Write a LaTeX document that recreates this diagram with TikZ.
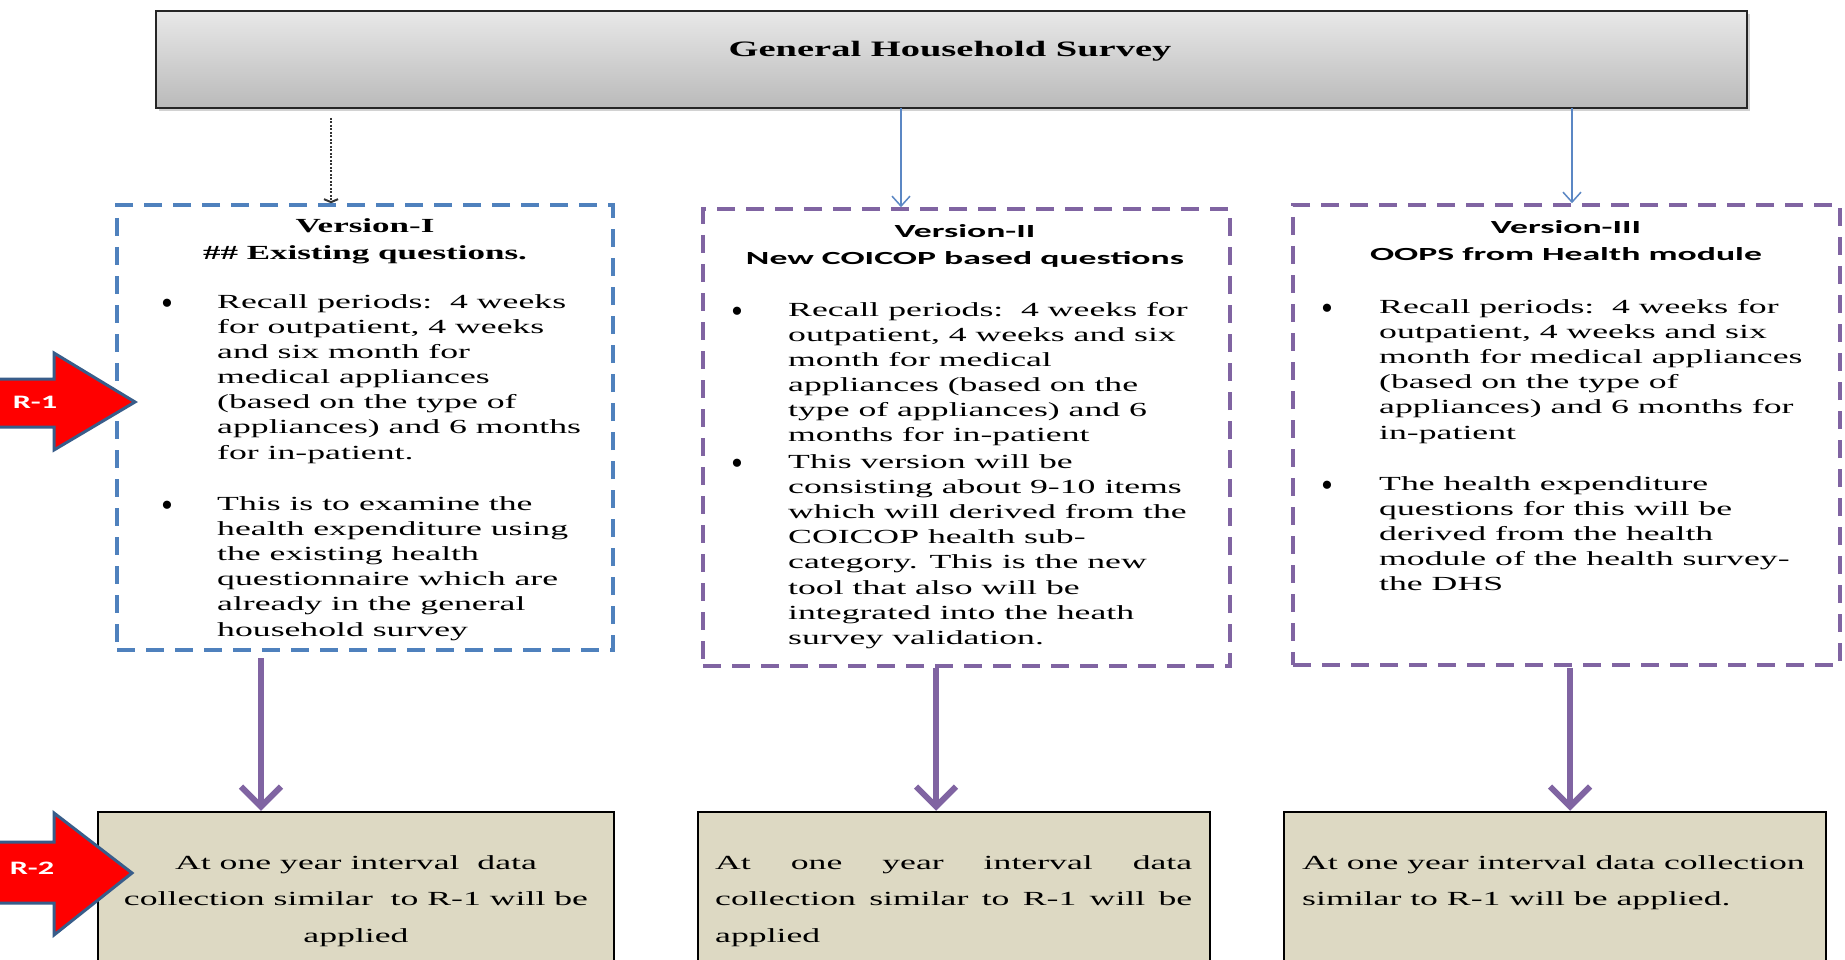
\documentclass[tikz,border=0pt]{standalone}
\usepackage{fontspec}
\setmainfont{Liberation Serif}
\newfontfamily\bodyf{Liberation Serif}[FakeStretch=1.785]
\newfontfamily\headf{Liberation Serif}[FakeStretch=1.75]
\newfontfamily\calf{Carlito}[FakeStretch=1.93]
\newfontfamily\rlabf{Carlito}[FakeStretch=1.7]
\newfontfamily\plainf{Liberation Serif}
\usetikzlibrary{arrows.meta,shadows}
\definecolor{vblue}{RGB}{79,129,189}
\definecolor{arrblue}{RGB}{91,135,196}
\definecolor{vpurple}{RGB}{128,100,162}
\definecolor{tanfill}{RGB}{221,217,195}
\definecolor{rborder}{RGB}{56,93,138}
\definecolor{gtop}{RGB}{232,232,232}
\definecolor{gbot}{RGB}{186,186,186}
\begin{document}
\begin{tikzpicture}[x=1pt,y=-1pt,
  vbox/.style={line width=3.5pt, dash pattern=on 18pt off 11pt, inner sep=0pt},
  bluebox/.style={vbox, draw=vblue},
  purpbox/.style={vbox, draw=vpurple},
  tanbox/.style={draw=black, line width=2.5pt, fill=tanfill, inner sep=0pt},
  para/.style={font=\bodyf\fontsize{20}{25.2}\selectfont, inner sep=0pt, anchor=base west},
  ttl/.style={font=\headf\bfseries\fontsize{20}{27}\selectfont, inner sep=0pt, anchor=base},
  cttl/.style={font=\calf\bfseries\fontsize{18.5}{27}\selectfont, inner sep=0pt, anchor=base},
  bul/.style={font=\plainf\fontsize{34}{34}\selectfont, inner sep=0pt, anchor=center},
  btxt/.style={font=\bodyf\fontsize{20}{36.5}\selectfont, inner sep=0pt},
  thinarr/.style={draw=arrblue, line width=1.5pt, -{Straight Barb[length=10pt,width=18pt]}},
  thickarr/.style={draw=vpurple, line width=6pt, -{Straight Barb[length=20pt,width=40pt]}},
  dotarr/.style={draw=black!80, line width=2pt, dash pattern=on 2pt off 1.5pt, -{Straight Barb[length=3pt,width=14pt]}},
  redarr/.style={fill=red, draw=rborder, line width=3pt, line join=miter},
  rlab/.style={font=\rlabf\bfseries\fontsize{19}{20}\selectfont, text=white, inner sep=0pt, anchor=base}
]
\clip (0,0) rectangle (1845,960);
\fill[white] (0,0) rectangle (1845,960);

% top box
\node[draw=black!85, line width=2.5pt, top color=gtop, bottom color=gbot,
      drop shadow={shadow xshift=3pt, shadow yshift=-3pt, opacity=0.35},
      minimum width=1591pt, minimum height=97pt, inner sep=0pt] (ghs) at (951.5,59.5) {};
\node[font=\headf\bfseries\fontsize{22}{26}\selectfont, inner sep=0pt, anchor=base] (ghsl) at (950,57) {General Household Survey};

% version boxes
\node[bluebox, minimum width=496pt, minimum height=445pt] (v1) at (365,427.5) {};
\node[purpbox, minimum width=527pt, minimum height=457pt] (v2) at (966.5,437.5) {};
\node[purpbox, minimum width=547pt, minimum height=460pt] (v3) at (1566.5,435) {};

% bottom boxes
\node[tanbox, minimum width=516pt, minimum height=188pt] (b1) at (356,906) {};
\node[tanbox, minimum width=512pt, minimum height=188pt] (b2) at (954,906) {};
\node[tanbox, minimum width=542pt, minimum height=188pt] (b3) at (1555,906) {};

% connectors
\coordinate (d1) at (331,118);
\draw[dotarr] (d1) -- (d1 |- v1.north);
\coordinate (a2) at (901,108);
\draw[thinarr] (a2) -- (a2 |- v2.north);
\coordinate (a3) at (1572,108);
\draw[thinarr] (a3) -- (a3 |- v3.north);
\coordinate (p1) at (261,658);
\draw[thickarr] (p1) -- (p1 |- b1.north);
\coordinate (p2) at (936,668);
\draw[thickarr] (p2) -- (p2 |- b2.north);
\coordinate (p3) at (1570,668);
\draw[thickarr] (p3) -- (p3 |- b3.north);

% version I
\node[ttl] (v1t) at (365,233) {\begin{tabular}[t]{@{}c@{}}Version-I\\ \#\# Existing questions.\end{tabular}};
\node[bul] (v1b1) at (167,307) {\textbullet};
\node[para] (v1p1) at (217,308) {\begin{tabular}[t]{@{}l@{}}Recall periods:\ \ 4 weeks\\ for outpatient, 4 weeks\\ and six month for\\ medical appliances\\ (based on the type of\\ appliances) and 6 months\\ for in-patient.\end{tabular}};
\node[bul] (v1b2) at (167,509) {\textbullet};
\node[para] (v1p2) at (217,510) {\begin{tabular}[t]{@{}l@{}}This is to examine the\\ health expenditure using\\ the existing health\\ questionnaire which are\\ already in the general\\ household survey\end{tabular}};

% version II
\node[cttl] (v2t) at (965,238) {\begin{tabular}[t]{@{}c@{}}Version-II\\ New COICOP based questions\end{tabular}};
\node[bul] (v2b1) at (737,315) {\textbullet};
\node[para] (v2p1) at (788,316) {\begin{tabular}[t]{@{}l@{}}Recall periods:\ \ 4 weeks for\\ outpatient, 4 weeks and six\\ month for medical\\ appliances (based on the\\ type of appliances) and 6\\ months for in-patient\end{tabular}};
\node[bul] (v2b2) at (737,467) {\textbullet};
\node[para] (v2p2) at (788,468) {\begin{tabular}[t]{@{}l@{}}This version will be\\ consisting about 9-10 items\\ which will derived from the\\ COICOP health sub-\\ category. This is the new\\ tool that also will be\\ integrated into the heath\\ survey validation.\end{tabular}};

% version III
\node[cttl] (v3t) at (1566,234) {\begin{tabular}[t]{@{}c@{}}Version-III\\ OOPS from Health module\end{tabular}};
\node[bul] (v3b1) at (1327,312) {\textbullet};
\node[para] (v3p1) at (1379,313) {\begin{tabular}[t]{@{}l@{}}Recall periods:\ \ 4 weeks for\\ outpatient, 4 weeks and six\\ month for medical appliances\\ (based on the type of\\ appliances) and 6 months for\\ in-patient\end{tabular}};
\node[bul] (v3b2) at (1327,489) {\textbullet};
\node[para] (v3p2) at (1379,490) {\begin{tabular}[t]{@{}l@{}}The health expenditure\\ questions for this will be\\ derived from the health\\ module of the health survey-\\ the DHS\end{tabular}};

% bottom texts
\node[btxt, anchor=base] (b1t) at (356,869) {\begin{tabular}[t]{@{}c@{}}At one year interval\ \ data\\ collection similar\ \ to R-1 will be\\ applied\end{tabular}};
\node[btxt, anchor=base west] (b2t) at (715,869) {\begin{tabular}[t]{@{}l@{}}\makebox[477pt][s]{At one year interval data}\\ \makebox[477pt][s]{collection similar to R-1 will be}\\ applied\end{tabular}};
\node[btxt, anchor=base west] (b3t) at (1302,869) {\begin{tabular}[t]{@{}l@{}}At one year interval data collection\\ similar to R-1 will be applied.\end{tabular}};

% red arrows
\draw[redarr] (-10,379) -- (54,379) -- (54,353) -- (135,402) -- (54,450) -- (54,427) -- (-10,427) -- cycle;
\node[rlab] (r1) at (35,408) {R-1};
\draw[redarr] (-10,842) -- (54,842) -- (54,813) -- (132,873) -- (54,935) -- (54,903) -- (-10,903) -- cycle;
\node[rlab] (r2) at (32,874) {R-2};
\end{tikzpicture}
\end{document}
